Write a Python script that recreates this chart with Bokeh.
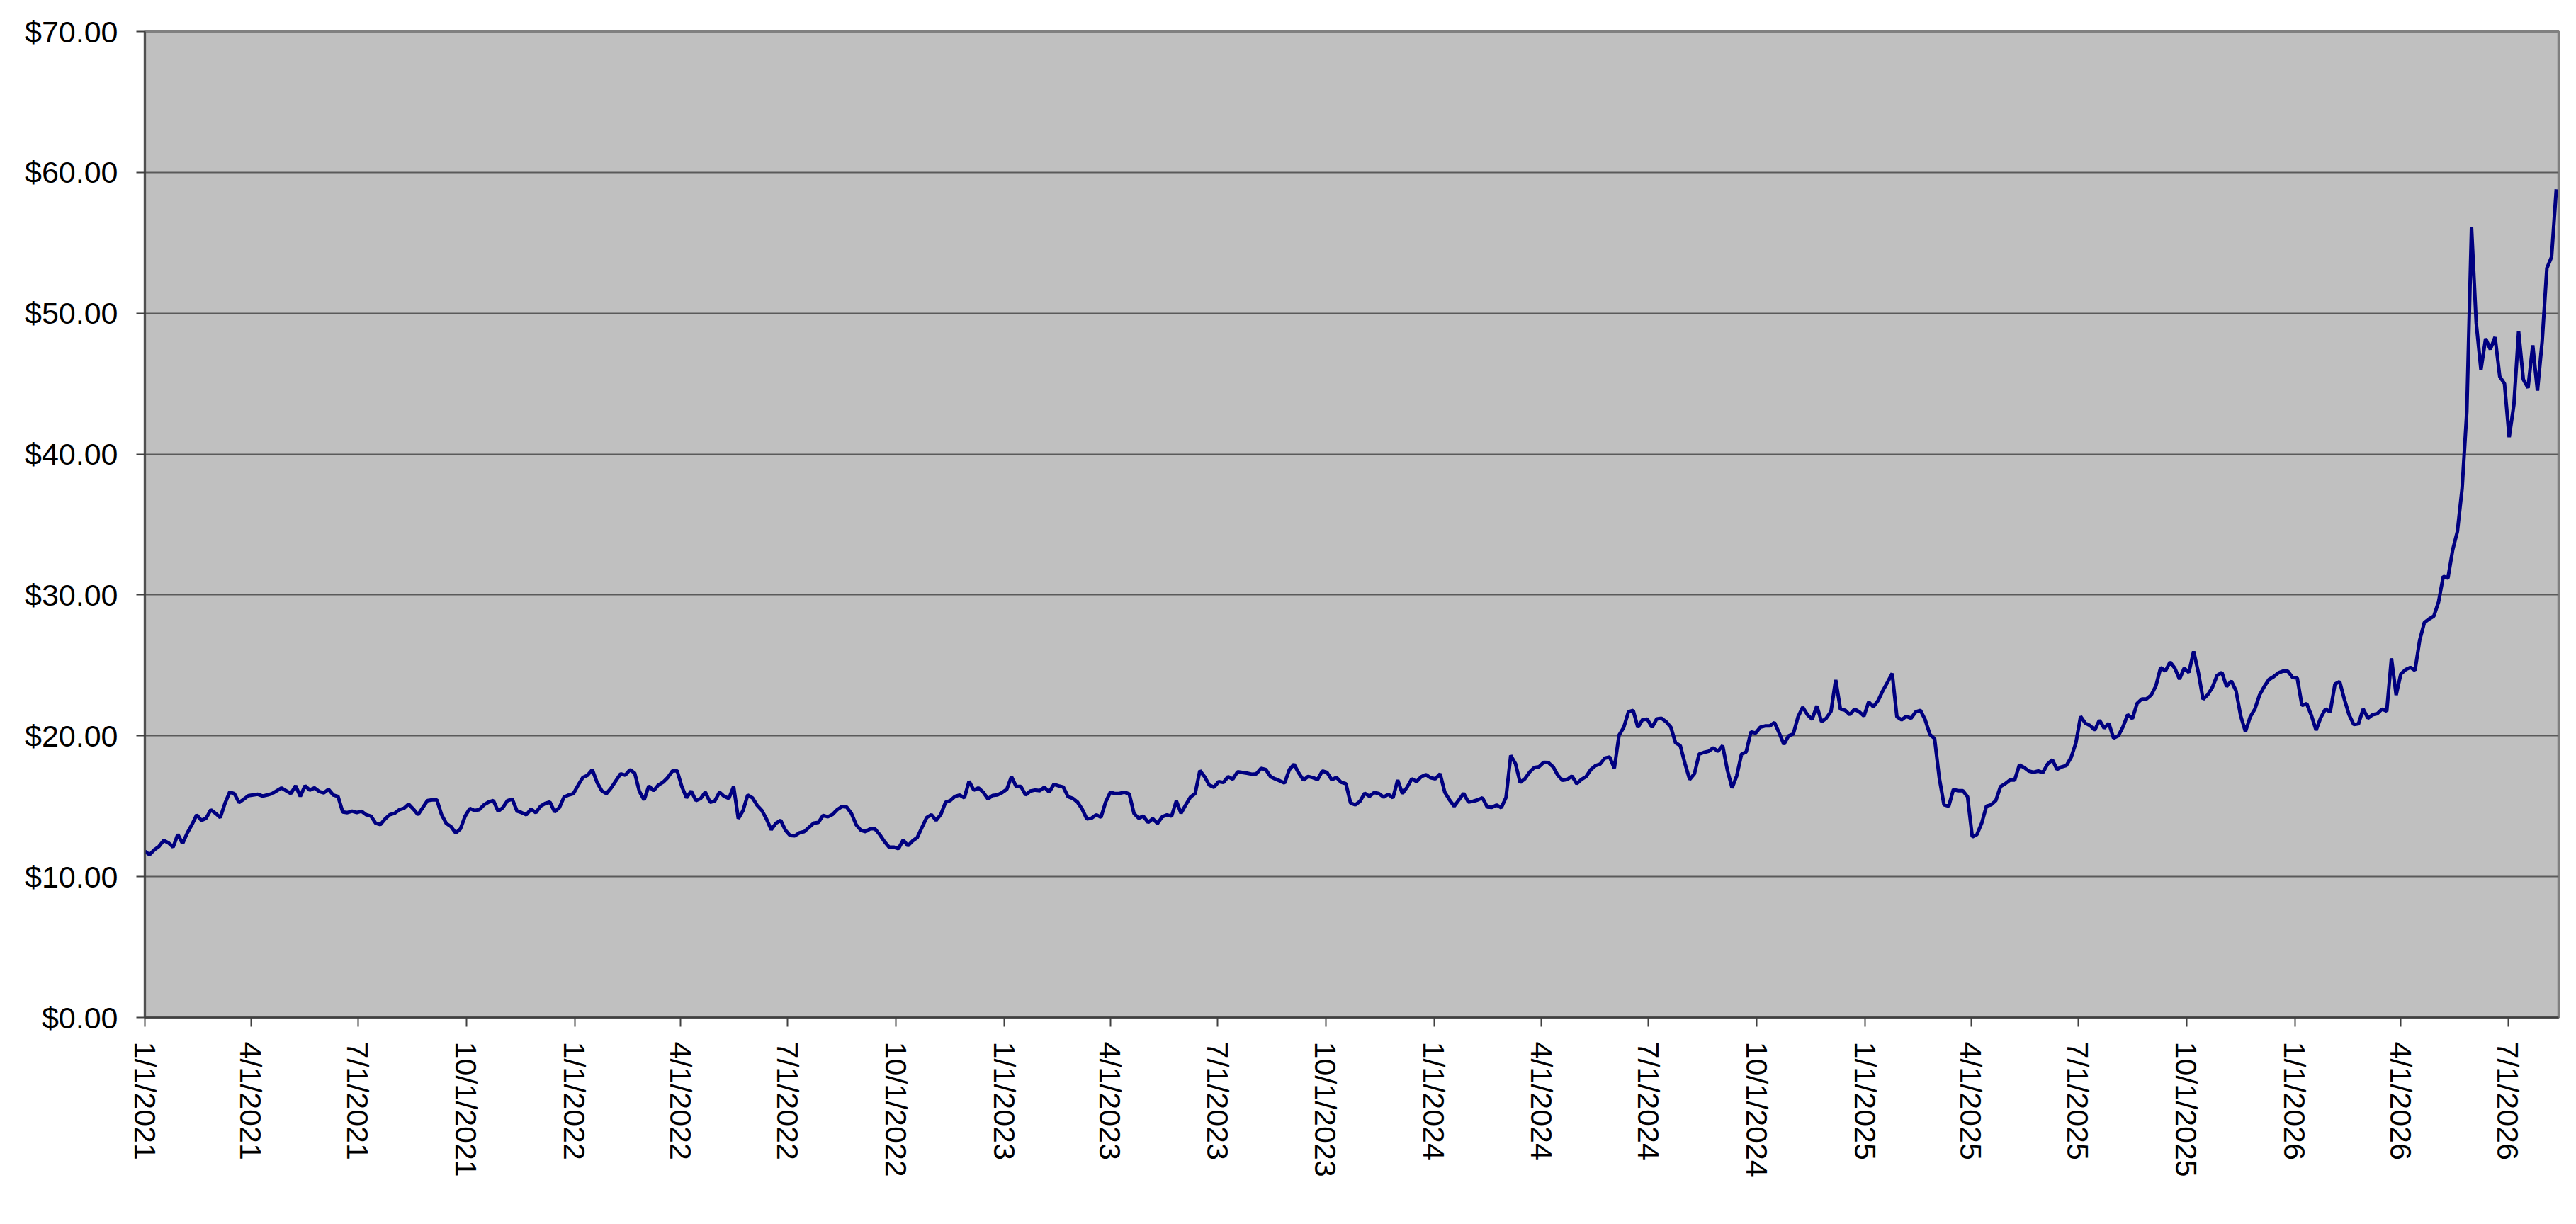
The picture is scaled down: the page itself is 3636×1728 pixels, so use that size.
import pandas as pd
from bokeh.plotting import figure
from bokeh.models import (Range1d, FixedTicker, NumeralTickFormatter,
                          CustomJSTickFormatter, ColumnDataSource)
from bokeh.embed import file_html
from bokeh.resources import INLINE

# ---------------- data (one value every 4 days) ----
start_date = "2021-01-01"
step_days = 4
x_end = "2026-08-13"

prices_2021 = [11.8, 11.56, 11.9, 12.15, 12.57, 12.4, 12.1, 13.0, 12.35, 13.1, 13.7, 14.39,
               14.0, 14.15, 14.75, 14.5, 14.2, 15.2, 16.0, 15.9, 15.26, 15.5, 15.75, 15.8,
               15.85, 15.72, 15.8, 15.9, 16.1, 16.3, 16.1, 15.9, 16.45, 15.7, 16.45, 16.15,
               16.3, 16.05, 15.95, 16.2, 15.8, 15.7, 14.6, 14.55, 14.65, 14.55, 14.65, 14.4,
               14.3, 13.8, 13.7, 14.1, 14.4, 14.5, 14.75, 14.85, 15.15, 14.8, 14.4, 14.9,
               15.4, 15.45, 15.45, 14.4, 13.78, 13.55, 13.1, 13.4, 14.3, 14.85, 14.7, 14.76,
               15.1, 15.3, 15.4, 14.65, 14.9, 15.4, 15.51, 14.67, 14.55, 14.4, 14.8, 14.55,
               15.0, 15.2, 15.3, 14.6, 14.9, 15.65, 15.8, 15.9]
prices_2022 = [16.5, 17.05, 17.2, 17.6, 16.7, 16.1, 15.9, 16.3, 16.8, 17.3, 17.2, 17.6,
               17.35, 16.05, 15.45, 16.44, 16.1, 16.5, 16.7, 17.03, 17.5, 17.53, 16.4, 15.6,
               16.08, 15.4, 15.55, 16.0, 15.29, 15.37, 16.0, 15.7, 15.56, 16.4, 14.12, 14.7,
               15.8, 15.6, 15.07, 14.7, 14.08, 13.33, 13.8, 14.0, 13.3, 12.92, 12.9, 13.12,
               13.2, 13.5, 13.8, 13.85, 14.35, 14.25, 14.42, 14.76, 14.98, 14.95, 14.5, 13.7,
               13.3, 13.2, 13.4, 13.4, 13.0, 12.5, 12.1, 12.1, 11.98, 12.6, 12.2, 12.54,
               12.78, 13.5, 14.2, 14.4, 14.0, 14.42, 15.28, 15.4, 15.7, 15.8, 15.6, 16.77,
               16.15, 16.3, 16.0, 15.52, 15.77, 15.8, 15.97]
prices_2023 = [16.2, 17.1, 16.4, 16.4, 15.8, 16.08, 16.15, 16.1, 16.35, 16.0, 16.55, 16.45,
               16.36, 15.68, 15.56, 15.3, 14.8, 14.1, 14.15, 14.4, 14.22, 15.3, 16.0, 15.9,
               15.92, 16.0, 15.87, 14.5, 14.15, 14.3, 13.85, 14.12, 13.78, 14.25, 14.39, 14.3,
               15.38, 14.5, 15.1, 15.65, 15.9, 17.53, 17.1, 16.5, 16.35, 16.75, 16.69, 17.1,
               16.92, 17.45, 17.4, 17.35, 17.28, 17.3, 17.7, 17.6, 17.1, 16.94, 16.8, 16.65,
               17.6, 17.98, 17.35, 16.85, 17.12, 17.03, 16.9, 17.5, 17.4, 16.88, 17.05, 16.7,
               16.6, 15.23, 15.1, 15.35, 15.93, 15.7, 15.97, 15.9, 15.65, 15.85, 15.6, 16.86,
               15.9, 16.35, 16.95, 16.75, 17.1, 17.24, 17.02]
prices_2024 = [16.95, 17.3, 16.0, 15.45, 15.0, 15.45, 15.92, 15.3, 15.35, 15.45, 15.6, 14.95,
               14.92, 15.09, 14.9, 15.63, 18.6, 18.03, 16.69, 16.95, 17.42, 17.75, 17.8, 18.12,
               18.1, 17.8, 17.2, 16.85, 16.9, 17.15, 16.6, 16.9, 17.1, 17.6, 17.88, 18.0,
               18.42, 18.49, 17.7, 20.05, 20.6, 21.7, 21.8, 20.6, 21.15, 21.18, 20.6, 21.2,
               21.25, 21.0, 20.61, 19.5, 19.3, 18.03, 16.9, 17.3, 18.7, 18.82, 18.9, 19.15,
               18.9, 19.3, 17.57, 16.3, 17.17, 18.7, 18.86, 20.28, 20.2, 20.61, 20.7, 20.7,
               20.94, 20.2, 19.4, 20.0, 20.13, 21.34, 22.04, 21.5, 21.18, 22.12, 21.0, 21.25,
               21.73, 23.97, 21.9, 21.82, 21.5, 21.9, 21.7, 21.4]
prices_2025 = [22.4, 22.06, 22.5, 23.2, 23.8, 24.43, 21.35, 21.14, 21.38, 21.25, 21.7, 21.8,
               21.14, 20.1, 19.8, 17.0, 15.1, 15.0, 16.2, 16.1, 16.1, 15.68, 12.82, 13.0,
               13.8, 15.0, 15.1, 15.4, 16.4, 16.6, 16.86, 16.86, 17.93, 17.75, 17.5, 17.42,
               17.5, 17.4, 18.0, 18.3, 17.62, 17.8, 17.9, 18.48, 19.5, 21.37, 20.9, 20.73,
               20.4, 21.11, 20.55, 20.88, 19.84, 20.0, 20.64, 21.5, 21.22, 22.3, 22.62, 22.62,
               22.9, 23.55, 24.85, 24.6, 25.24, 24.8, 24.03, 24.8, 24.5, 26.0, 24.5, 22.6,
               22.92, 23.45, 24.3, 24.5, 23.5, 23.9, 23.2, 21.4, 20.3, 21.33, 21.9, 22.9,
               23.5, 24.0, 24.2, 24.47, 24.6, 24.59, 24.15]
prices_2026 = [24.1, 22.15, 22.29, 21.45, 20.4, 21.3, 21.9, 21.7, 23.67, 23.85, 22.6, 21.5,
               20.8, 20.85, 21.9, 21.25, 21.5, 21.57, 21.9, 21.75, 25.5, 22.9, 24.4, 24.7,
               24.86, 24.65, 26.8, 28.05, 28.3, 28.5, 29.5, 31.32, 31.2, 33.2, 34.5, 37.55,
               43.0, 56.1, 49.31, 46.0, 48.2, 47.44, 48.3, 45.5, 45.0, 41.2, 43.5, 48.7,
               45.3, 44.7, 47.72, 44.5, 48.0, 53.19, 54.0, 58.8]

tick_dates = ["2021-01-01", "2021-04-01", "2021-07-01", "2021-10-01",
              "2022-01-01", "2022-04-01", "2022-07-01", "2022-10-01",
              "2023-01-01", "2023-04-01", "2023-07-01", "2023-10-01",
              "2024-01-01", "2024-04-01", "2024-07-01", "2024-10-01",
              "2025-01-01", "2025-04-01", "2025-07-01", "2025-10-01",
              "2026-01-01", "2026-04-01", "2026-07-01"]
y_ticks = [0, 10, 20, 30, 40, 50, 60, 70]

# ---------------- build ------------------------------------------------------
prices = prices_2021 + prices_2022 + prices_2023 + prices_2024 + prices_2025 + prices_2026
dates = pd.date_range(start_date, periods=len(prices), freq=f"{step_days}D")
source = ColumnDataSource(data=dict(date=dates, price=prices))

FONT = "Liberation Sans"

p = figure(width=3620, height=1712, x_axis_type="datetime",
           output_backend="svg", toolbar_location=None,
           x_range=Range1d(pd.Timestamp(start_date), pd.Timestamp(x_end)),
           y_range=Range1d(0, 70),
           min_border_left=204, min_border_right=9,
           min_border_top=44, min_border_bottom=276)

p.background_fill_color = "#C0C0C0"
p.border_fill_color = "white"
p.outline_line_color = "#808080"
p.outline_line_width = 3.5

p.line("date", "price", source=source, line_color="#000080", line_width=5)

# grid
p.xgrid.visible = False
p.ygrid.grid_line_color = "#5a5a5a"
p.ygrid.grid_line_width = 1.8
p.ygrid.ticker = FixedTicker(ticks=y_ticks)

# y axis
ya = p.yaxis[0]
ya.ticker = FixedTicker(ticks=y_ticks)
ya.formatter = NumeralTickFormatter(format="$0.00")
ya.major_label_text_font = FONT
ya.major_label_text_font_size = "43px"
ya.major_label_text_color = "black"
ya.major_tick_out = 12
ya.major_tick_in = 0
ya.minor_tick_out = 0
ya.minor_tick_in = 0
ya.major_tick_line_color = "#404040"
ya.major_tick_line_width = 2
ya.axis_line_color = "#404040"
ya.axis_line_width = 2.5
ya.major_label_standoff = 26

# x axis
tick_ms = [pd.Timestamp(d).timestamp() * 1000 for d in tick_dates]
xa = p.xaxis[0]
xa.ticker = FixedTicker(ticks=tick_ms)
xa.formatter = CustomJSTickFormatter(code="""
    const d = new Date(tick);
    return (d.getUTCMonth() + 1) + "/" + d.getUTCDate() + "/" + d.getUTCFullYear();
""")
xa.major_label_orientation = "vertical"
xa.major_label_text_font = FONT
xa.major_label_text_font_size = "43px"
xa.major_label_text_color = "black"
xa.major_tick_out = 13
xa.major_tick_in = 0
xa.minor_tick_out = 0
xa.minor_tick_in = 0
xa.major_tick_line_color = "#404040"
xa.major_tick_line_width = 2
xa.axis_line_color = "#404040"
xa.axis_line_width = 2.5
xa.major_label_standoff = 21

open("out.html", "w").write(file_html(p, INLINE))
